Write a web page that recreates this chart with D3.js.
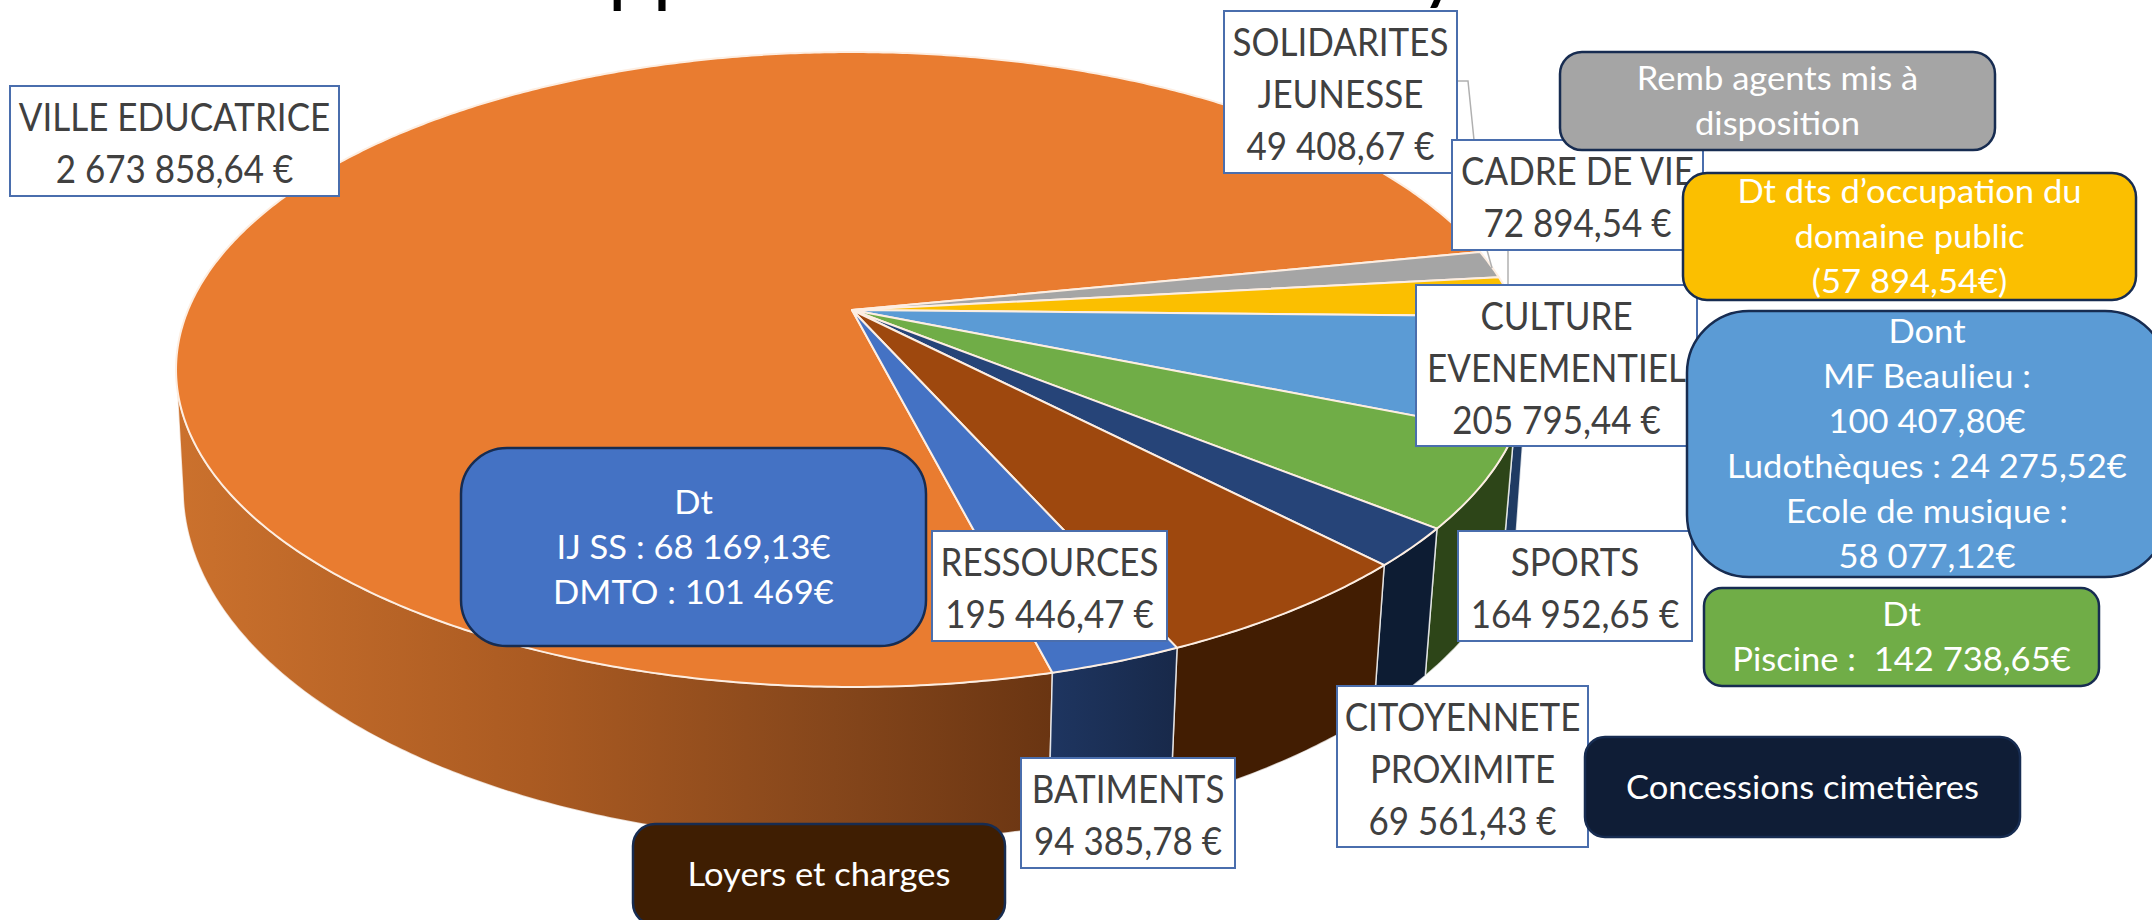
<!DOCTYPE html>
<html><head><meta charset="utf-8">
<style>html,body{margin:0;padding:0;background:#fff;overflow:hidden}svg{display:block}text{font-family:Lato,"Open Sans",sans-serif}</style>
<script src="https://cdn.jsdelivr.net/npm/d3@7/dist/d3.min.js"></script>
</head><body><svg id="c" width="2152" height="920"></svg>
<script>
// ---- data
const sliceNames = [["VILLE EDUCATRICE"],["SOLIDARITES","JEUNESSE"],["CADRE DE VIE"],["CULTURE","EVENEMENTIEL"],["SPORTS"],["CITOYENNETE","PROXIMITE"],["RESSOURCES"],["BATIMENTS"]];
const sliceValues = [2673858.64,49408.67,72894.54,205795.44,164952.65,69561.43,195446.47,94385.78];
const sliceColors = ["#e97c30","#a5a5a5","#fbbf00","#5b9bd5","#70ad47","#264478","#9e480e","#4472c4"];
const wallColors  = ["url(#orangeWall)","#555","#7a5c00","#1f3b63","#2d4518","#0d1c33","#421d02","url(#blueWall)"];
const noteTexts = [
  ["Remb agents mis à","disposition"],
  ["Dt dts d’occupation du","domaine public","(57 894,54€)"],
  ["Dont","MF Beaulieu :","100 407,80€","Ludothèques : 24 275,52€","Ecole de musique :","58 077,12€"],
  ["Dt","Piscine :  142 738,65€"],
  ["Concessions cimetières"],
  ["Loyers et charges"],
  ["Dt","IJ SS : 68 169,13€","DMTO : 101 469€"]
];
const noteColors = ["#a5a5a5","#fbbf00","#5b9bd5","#70ad47","#0f1d36","#3f1e02","#4472c4"];
const titleFragments = ["pp","y"];

// ---- layout (pixels)
const labelBoxes = [[10,86,329,110],[1224,11,233,162],[1452,140,251,110],[1416,285,281,161],[1458,531,234,110],[1337,686,251,161],[932,531,235,110],[1021,758,214,110]];
const noteBoxes = [[1560,52,435,98,22],[1683,173,453,127,24],[1687,311,480,266,62],[1704,588,395,98,18],[1585,737,435,100,20],[633,824,372,101,22],[461,448,465,198,46]];
const titlePos = [[608,-3],[1420,-6]];
const leaders = [[[1457,81],[1468,81],[1474,140]],[[1487,250],[1492,268]],[[1508,250],[1508,285]]];

// ---- projection of the tilted disc
const apex = {x:852,y:310}, A=664, B=306.3, K=0.1874;
const low = {cx:855,cy:489,rx:672,ry:353};
const rad = d=>d*Math.PI/180;
function rim(t){const u=Math.sin(t),v=-Math.cos(t),w=1-K*v;return [apex.x+A*u/w,apex.y+B*v/w];}
function lower(t){const [x]=rim(t);
  const lx = x>=apex.x ? x-0.02*(x-apex.x) : x+0.0104*(apex.x-x);
  const q=(lx-low.cx)/low.rx;
  return [lx,low.cy+low.ry*Math.sqrt(Math.max(0,1-q*q))];}
const START=rad(165.7);
const arcs=d3.pie().sort(null).value(d=>d).startAngle(START).endAngle(START+2*Math.PI)(sliceValues);
const line=d3.line();
const samples=(a,b)=>{const n=Math.max(2,Math.ceil((b-a)/rad(0.5)));return d3.range(n+1).map(i=>a+(b-a)*i/n);};

const svg=d3.select("#c");
const defs=svg.append("defs");
const grad=(id,x1,x2,stops)=>{const g=defs.append("linearGradient").attr("id",id).attr("gradientUnits","userSpaceOnUse").attr("x1",x1).attr("x2",x2).attr("y1",0).attr("y2",0);
  stops.forEach(s=>g.append("stop").attr("offset",s[0]).attr("stop-color",s[1]));};
grad("orangeWall",180,1052,[[0,"#cb712d"],[0.4,"#ab5b22"],[0.75,"#85461b"],[1,"#6a3512"]]);
grad("blueWall",1052,1175,[[0,"#1e3560"],[1,"#18294a"]]);

// side walls: only the part of each slice on the near side of the disc
const wallMin=rad(100.8), wallMax=rad(259), TAU=2*Math.PI;
svg.append("g").selectAll("path").data(arcs).join("path")
 .attr("d",d=>{
   const ranges=[];
   [0,-TAU].forEach(o=>{
     const a=Math.max(d.startAngle+o,wallMin),b=Math.min(d.endAngle+o,wallMax); if(b>a) ranges.push([a,b]);});
   return ranges.map(r=>{const s=samples(r[0],r[1]);
     return line(s.map(rim).concat(s.slice().reverse().map(lower)))+"Z";}).join("");
 })
 .attr("fill",(d,i)=>wallColors[i]).attr("stroke","#fff").attr("stroke-opacity",.75).attr("stroke-width",1.5);

// top faces
svg.append("g").selectAll("path").data(arcs).join("path")
 .attr("d",d=>line([[apex.x,apex.y]].concat(samples(d.startAngle,d.endAngle).map(rim)))+"Z")
 .attr("fill",(d,i)=>sliceColors[i]).attr("stroke","#fdeee2").attr("stroke-width",2).attr("stroke-linejoin","round");

// title fragments cut by the top of the picture
svg.append("g").selectAll("text").data(titleFragments).join("text")
 .attr("x",(d,i)=>titlePos[i][0]).attr("y",(d,i)=>titlePos[i][1]).attr("font-size",80).attr("fill","#000").text(d=>d);

// leader lines
svg.append("g").selectAll("path").data(leaders).join("path").attr("d",d=>line(d)).attr("fill","none").attr("stroke","#b0b0b0").attr("stroke-width",1.5);

function lines(sel,linesOf,box,size,lh,offs,fill,fx){
  sel.selectAll("text").data((d,i)=>linesOf(d,i).map((t,j,all)=>({t,j,n:all.length,b:box(d,i)}))).join("text")
   .attr("x",d=>d.b[0]+d.b[2]/2).attr("y",d=>d.b[1]+d.b[3]/2+(d.j-(d.n-1)/2)*lh+offs)
   .attr("text-anchor","middle").attr("font-size",size).attr("fill",fill).attr("xml:space","preserve").text(d=>d.t)
   .each(function(){const w=this.getComputedTextLength();this.setAttribute("textLength",w*fx);this.setAttribute("lengthAdjust","spacingAndGlyphs");});
}

// value labels
const fmt=d3.formatLocale({decimal:",",thousands:" ",grouping:[3],currency:[""," €"]}).format("$,.2f");
const labels=svg.append("g").selectAll("g").data(sliceNames).join("g");
labels.append("rect").attr("x",(d,i)=>labelBoxes[i][0]).attr("y",(d,i)=>labelBoxes[i][1]).attr("width",(d,i)=>labelBoxes[i][2]).attr("height",(d,i)=>labelBoxes[i][3])
 .attr("fill","#fff").attr("stroke","#4a6ead").attr("stroke-width",2);
lines(labels,d=>d.concat([fmt(sliceValues[sliceNames.indexOf(d)])]),d=>labelBoxes[sliceNames.indexOf(d)],38,52,16,"#404040",0.92);

// rounded notes sit above the labels
const notes=svg.append("g").selectAll("g").data(noteTexts).join("g");
notes.append("rect").attr("x",(d,i)=>noteBoxes[i][0]).attr("y",(d,i)=>noteBoxes[i][1]).attr("width",(d,i)=>noteBoxes[i][2]).attr("height",(d,i)=>noteBoxes[i][3])
 .attr("rx",(d,i)=>noteBoxes[i][4]).attr("fill",(d,i)=>noteColors[i]).attr("stroke","#172c51").attr("stroke-width",2.5);
lines(notes,d=>d,(d,i)=>noteBoxes[noteTexts.indexOf(d)],32,45,11.5,"#fff",1.08);
</script></body></html>
